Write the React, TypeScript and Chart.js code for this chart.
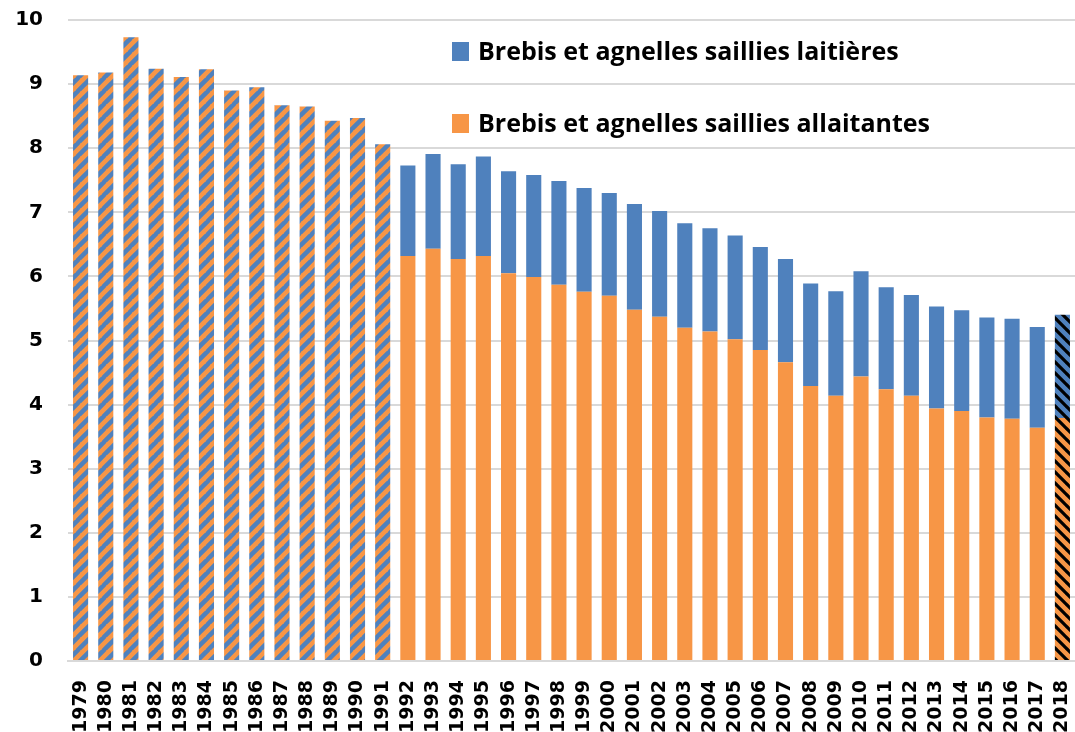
import React, { useEffect, useRef } from "react";
import { Chart, registerables } from "chart.js";

Chart.register(...registerables);

const years = [
  "1979", "1980", "1981", "1982", "1983", "1984", "1985", "1986", "1987", "1988",
  "1989", "1990", "1991", "1992", "1993", "1994", "1995", "1996", "1997", "1998",
  "1999", "2000", "2001", "2002", "2003", "2004", "2005", "2006", "2007", "2008",
  "2009", "2010", "2011", "2012", "2013", "2014", "2015", "2016", "2017", "2018",
];

// Totals only (no split available) for 1979-1991, drawn hatched
const totalNonDetaille = [
  9.14, 9.18, 9.73, 9.24, 9.11, 9.23, 8.9, 8.95, 8.67, 8.65, 8.43, 8.47, 8.06,
  null, null, null, null, null, null, null, null, null, null, null, null, null,
  null, null, null, null, null, null, null, null, null, null, null, null, null, null,
];

const allaitantes = [
  null, null, null, null, null, null, null, null, null, null, null, null, null,
  6.32, 6.43, 6.27, 6.32, 6.05, 5.99, 5.87, 5.76, 5.7, 5.48, 5.37, 5.2, 5.14,
  5.02, 4.85, 4.66, 4.29, 4.14, 4.44, 4.24, 4.14, 3.94, 3.9, 3.8, 3.78, 3.64, 3.79,
];

const laitieres = [
  null, null, null, null, null, null, null, null, null, null, null, null, null,
  1.41, 1.48, 1.48, 1.55, 1.59, 1.59, 1.62, 1.62, 1.6, 1.65, 1.65, 1.63, 1.61,
  1.62, 1.61, 1.61, 1.6, 1.63, 1.64, 1.59, 1.57, 1.59, 1.57, 1.56, 1.56, 1.57, 1.61,
];

const yTicks = [0, 1, 2, 3, 4, 5, 6, 7, 8, 9, 10];

const legendLabels = [
  "Brebis et agnelles saillies laitières",
  "Brebis et agnelles saillies allaitantes",
];

const BLUE = "#4f81bd";
const ORANGE = "#f79646";

function makeStripePattern(bg: string, fg: string, size: number, lw: number, forward: boolean) {
  const c = document.createElement("canvas");
  c.width = size;
  c.height = size;
  const g = c.getContext("2d")!;
  g.fillStyle = bg;
  g.fillRect(0, 0, size, size);
  g.strokeStyle = fg;
  g.lineWidth = lw;
  g.beginPath();
  for (let k = -1; k <= 1; k++) {
    const o = k * size;
    if (forward) {
      g.moveTo(o - 1, size + 1);
      g.lineTo(o + size + 1, -1);
    } else {
      g.moveTo(o - 1, -1);
      g.lineTo(o + size + 1, size + 1);
    }
  }
  g.stroke();
  return g.createPattern(c, "repeat")!;
}

export default function App() {
  const ref = useRef<HTMLCanvasElement | null>(null);

  useEffect(() => {
    if (!ref.current) return;
    const last = years.length - 1;
    const hatchBO = makeStripePattern(ORANGE, BLUE, 13, 4.5, true);
    const orangeBlack = makeStripePattern(ORANGE, "#000000", 11, 3.2, false);
    const blueBlack = makeStripePattern(BLUE, "#000000", 11, 3.2, false);

    const legendPlugin = {
      id: "customLegend",
      afterDraw(chart: any) {
        const ctx = chart.ctx;
        ctx.save();
        const colors = [BLUE, ORANGE];
        const x0 = 452;
        const rows = [42, 114];
        ctx.font = "bold 25px 'Open Sans'";
        ctx.textBaseline = "alphabetic";
        ctx.textAlign = "left";
        legendLabels.forEach((t, i) => {
          ctx.fillStyle = colors[i];
          ctx.fillRect(x0, rows[i], 17, 19);
          ctx.fillStyle = "#000000";
          ctx.fillText(t, x0 + 26, rows[i] + 18);
        });
        ctx.restore();
      },
    };

    const chart = new Chart(ref.current, {
      type: "bar",
      data: {
        labels: years,
        datasets: [
          {
            label: "Total",
            data: totalNonDetaille as any,
            backgroundColor: hatchBO as any,
            stack: "s",
          },
          {
            label: legendLabels[1],
            data: allaitantes as any,
            backgroundColor: ((c: any) => (c.dataIndex === last ? orangeBlack : ORANGE)) as any,
            stack: "s",
          },
          {
            label: legendLabels[0],
            data: laitieres as any,
            backgroundColor: ((c: any) => (c.dataIndex === last ? blueBlack : BLUE)) as any,
            stack: "s",
          },
        ],
      },
      options: {
        responsive: false,
        animation: false,
        layout: { padding: { top: 20, right: 0, left: 0, bottom: 0 } },
        datasets: { bar: { barPercentage: 0.6, categoryPercentage: 1 } },
        plugins: {
          legend: { display: false },
          tooltip: { enabled: false },
        },
        scales: {
          x: {
            stacked: true,
            grid: { display: false, drawTicks: false },
            border: { display: true, color: "#d9d9d9", width: 2 },
            ticks: {
              autoSkip: false,
              minRotation: 90,
              maxRotation: 90,
              padding: 19,
              color: "#000000",
              font: { family: "'DejaVu Sans'", weight: "bold", size: 19 },
            },
            afterFit(scale: any) {
              scale.height = 71;
              scale.paddingLeft = 0;
              scale.paddingRight = 0;
            },
          },
          y: {
            stacked: true,
            min: 0,
            max: 10,
            afterBuildTicks(scale: any) {
              scale.ticks = yTicks.map((v) => ({ value: v }));
            },
            grid: { color: "#d9d9d9", lineWidth: 2, drawTicks: false },
            border: { display: false },
            ticks: {
              padding: 25,
              color: "#000000",
              font: { family: "'DejaVu Sans'", weight: "bold", size: 20 },
            },
            afterFit(scale: any) {
              scale.width = 68;
              scale.paddingTop = 0;
              scale.paddingBottom = 0;
            },
          },
        },
      },
      plugins: [legendPlugin],
    });
    return () => chart.destroy();
  }, []);

  return (
    <div style={{ position: "fixed", left: 0, top: 0, width: 1075, height: 732, background: "#ffffff" }}>
      <canvas ref={ref} width={1075} height={732} />
    </div>
  );
}
